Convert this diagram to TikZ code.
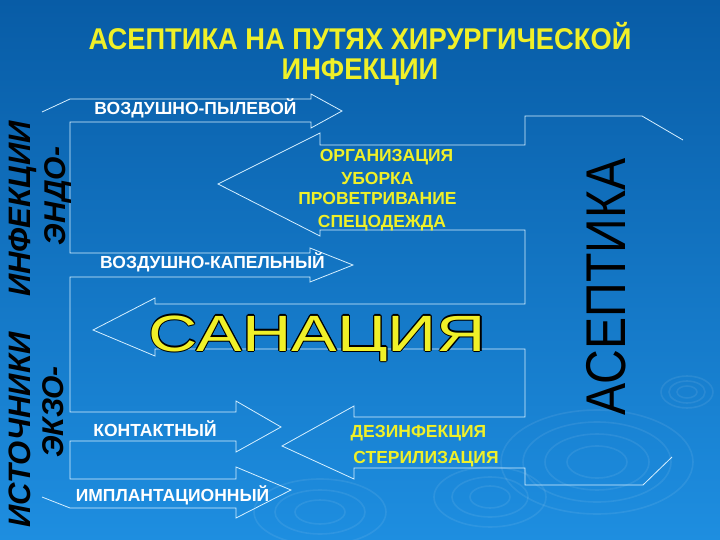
\documentclass[tikz,border=0pt]{standalone}
\usepackage{fontspec}
\setmainfont{Liberation Sans}

\definecolor{slidetop}{RGB}{8,92,166}
\definecolor{slidebottom}{RGB}{30,142,224}
\definecolor{outline}{RGB}{215,240,255}
\definecolor{signal}{RGB}{240,240,40}

\begin{document}
\begin{tikzpicture}[x=1pt,y=-1pt]
		\tikzstyle{way}=[font=\fontsize{17.5}{20}\selectfont\bfseries, text=white, inner sep=0pt, anchor=base]
		\tikzstyle{measure}=[way, text=signal]
		\tikzstyle{heading}=[font=\fontsize{30}{34}\selectfont\bfseries, text=signal, inner sep=0pt, anchor=base]
		\tikzstyle{sidetext}=[font=\fontsize{31}{34}\selectfont\bfseries\itshape, text=black, inner sep=0pt, anchor=base, rotate=90]
		\tikzstyle{sanation}=[font=\fontsize{51}{56}\selectfont, inner sep=0pt, anchor=base]
		\tikzstyle{contour}=[draw=outline, line width=0.8pt, line join=miter]
		\tikzstyle{ripple}=[draw=white, opacity=0.08, line width=1.6pt]

		\shade[top color=slidetop, bottom color=slidebottom] (0,0) rectangle (720,540);
		\useasboundingbox (0,0) rectangle (720,540);

		% ripples on the water
		\foreach \rx/\ry in {30/16, 52/28, 74/40, 96/52}
			\draw[ripple] (597,462) ellipse [x radius=\rx, y radius=\ry];
		\foreach \rx/\ry in {20/11, 38/20, 56/30}
			\draw[ripple] (490,497) ellipse [x radius=\rx, y radius=\ry];
		\foreach \rx/\ry in {25/12, 45/22, 66/33}
			\draw[ripple] (320,512) ellipse [x radius=\rx, y radius=\ry];
		\foreach \rx/\ry in {10/6, 18/11, 26/16}
			\draw[ripple] (687,392) ellipse [x radius=\rx, y radius=\ry];

		\node[heading] (title) at (360,50) {\scalebox{0.91}[1]{АСЕПТИКА НА ПУТЯХ ХИРУРГИЧЕСКОЙ}};
		\node[heading] (titleb) at (360,80) {\scalebox{0.91}[1]{ИНФЕКЦИИ}};

		% ways of infection
		\draw[contour] (42,112) -- (70,99) -- (311,99) -- (311,94) -- (342,111) -- (311,128) -- (311,122) -- (70,122)
			-- (70,253) -- (310,253) -- (310,248) -- (353,265) -- (310,282) -- (310,277) -- (70,277)
			-- (70,412) -- (236,412) -- (236,401) -- (281,427) -- (236,452) -- (236,441) -- (70,441)
			-- (70,479) -- (236,479) -- (236,467) -- (291,490) -- (236,518) -- (236,508) -- (70,508) -- (42,497);

		% measures of asepsis
		\draw[contour] (683,140) -- (642,116) -- (525,116) -- (525,145) -- (320,145) -- (320,133) -- (218,184)
			-- (320,236) -- (320,230) -- (525,230)
			-- (525,304) -- (155,304) -- (155,298) -- (93,330) -- (155,356) -- (155,349) -- (525,349)
			-- (525,417) -- (354,417) -- (354,406) -- (282,446) -- (354,479) -- (354,468) -- (525,468)
			-- (525,485) -- (643,485) -- (672,457);

		\node[way] (dust) at (195.5,115) {ВОЗДУШНО-ПЫЛЕВОЙ};
		\node[way] (drop) at (212.5,268) {ВОЗДУШНО-КАПЕЛЬНЫЙ};
		\node[way] (contact) at (155,436) {КОНТАКТНЫЙ};
		\node[way] (implant) at (172.5,501) {ИМПЛАНТАЦИОННЫЙ};

		\node[measure] (organize) at (386.5,162) {ОРГАНИЗАЦИЯ};
		\node[measure] (clean) at (377.5,185) {УБОРКА};
		\node[measure] (air) at (377.5,205) {ПРОВЕТРИВАНИЕ};
		\node[measure] (wear) at (382,228) {СПЕЦОДЕЖДА};
		\node[measure] (disinfect) at (418.5,437) {ДЕЗИНФЕКЦИЯ};
		\node[measure] (sterile) at (426,463) {СТЕРИЛИЗАЦИЯ};

		\foreach \dx/\dy [count=\k] in {-0.8/-0.8, -0.8/0.8, 0.8/-0.8, 0.8/0.8, -1.1/0, 1.1/0, 0/-1.1, 0/1.1}
			\node[sanation, text=black, xshift=\dx, yshift=\dy] (sanshadow\k) at (317.5,351) {\scalebox{1.34}[1]{САНАЦИЯ}};
		\node[sanation, text=signal] (sanation) at (317.5,351) {\scalebox{1.34}[1]{САНАЦИЯ}};

		\node[font=\fontsize{56}{60}\selectfont, text=black, inner sep=0pt, anchor=base, rotate=90] (asepsis) at (625,287) {\scalebox{0.86}[1]{АСЕПТИКА}};

		\node[sidetext] (infection) at (30,209) {ИНФЕКЦИИ};
		\node[sidetext] (sources) at (30,430) {ИСТОЧНИКИ};
		\node[sidetext, font=\fontsize{30}{34}\selectfont\bfseries\itshape] (endo) at (65,196) {ЭНДО-};
		\node[sidetext, font=\fontsize{30}{34}\selectfont\bfseries\itshape] (exo) at (63,412) {ЭКЗО-};

	\end{tikzpicture}
\end{document}
